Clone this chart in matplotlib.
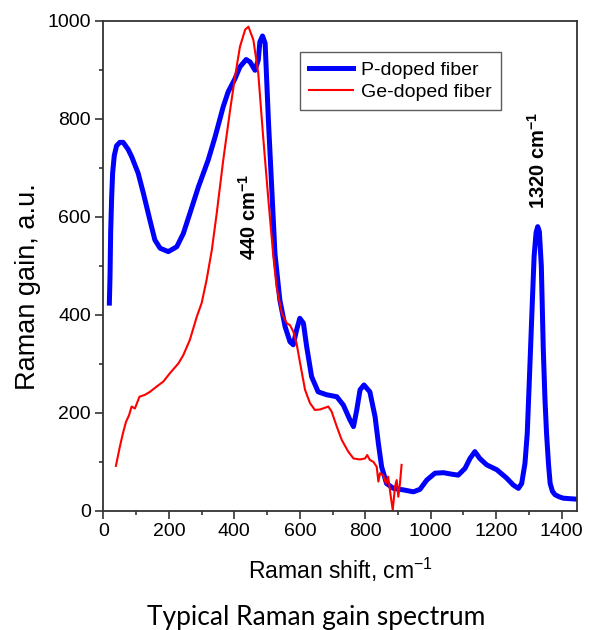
import matplotlib
matplotlib.use("Agg")
import matplotlib.pyplot as plt
from matplotlib.ticker import MultipleLocator

plt.rcParams["mathtext.fontset"] = "custom"
plt.rcParams["mathtext.rm"] = "Liberation Sans"
plt.rcParams["mathtext.it"] = "Liberation Sans:italic"
plt.rcParams["mathtext.bf"] = "Liberation Sans:bold"
plt.rcParams["font.family"] = ["Liberation Sans", "DejaVu Sans"]

# P-doped fiber (blue)
p_shift = [18, 20, 22, 25, 28, 33, 40, 50, 60, 75, 86, 106, 122, 142, 157, 173, 198, 224, 244,
           264, 290, 320, 341, 366, 381, 402, 417, 436, 448, 463, 473, 478, 486, 494, 504, 514,
           524, 539, 555, 570, 580, 590, 600, 611, 621, 636, 656, 682, 713, 733, 753, 764, 774,
           784, 796, 814, 830, 840, 850, 865, 886, 916, 947, 967, 988, 1013, 1039, 1064, 1084,
           1105, 1120, 1135, 1150, 1171, 1202, 1232, 1252, 1268, 1278, 1288, 1295, 1301, 1309,
           1316, 1322, 1327, 1332, 1338, 1344, 1349, 1354, 1360, 1365, 1372, 1380, 1392, 1405,
           1425, 1446]
p_gain = [424, 480, 570, 640, 690, 725, 745, 752, 752, 738, 723, 689, 648, 593, 553, 536, 529,
          539, 566, 607, 661, 716, 763, 825, 855, 882, 906, 921, 916, 899, 920, 957, 969, 954,
          797, 661, 525, 430, 376, 345, 339, 369, 393, 383, 335, 274, 243, 237, 233, 216, 186,
          172, 206, 247, 257, 243, 192, 138, 90, 56, 46, 43, 39, 44, 63, 77, 78, 75, 73, 87,
          107, 121, 107, 94, 84, 67, 53, 46, 56, 97, 158, 260, 400, 520, 568, 580, 570, 500,
          330, 230, 158, 95, 56, 40, 33, 29, 26, 25, 24]

# Ge-doped fiber (red)
g_shift = [38, 50, 60, 69, 78, 86, 96, 110, 127, 142, 163, 183, 203, 229, 244, 264, 285, 300,
           315, 331, 346, 366, 387, 402, 417, 433, 443, 458, 473, 488, 504, 519, 529, 545, 560,
           570, 580, 590, 601, 616, 631, 646, 662, 687, 697, 713, 728, 748, 764, 784, 799, 806,
           814, 825, 835, 840, 845, 855, 863, 870, 878, 884, 891, 896, 901, 906, 911]
g_gain = [92, 131, 160, 182, 195, 213, 209, 233, 237, 243, 254, 264, 281, 301, 318, 349, 396,
          424, 471, 532, 607, 716, 818, 886, 947, 982, 988, 961, 893, 763, 634, 520, 457, 403,
          383, 379, 366, 342, 301, 247, 220, 206, 207, 213, 203, 172, 145, 121, 107, 105, 107,
          114, 104, 100, 90, 60, 77, 73, 56, 70, 29, 2, 50, 63, 29, 56, 94]

fig = plt.figure(figsize=(5.93, 6.30), dpi=100)
ax = fig.add_axes([0.1745, 0.189, 0.7985, 0.778])

ax.plot(p_shift, p_gain, color="#0000ff", lw=3.6, label="P-doped fiber", solid_joinstyle="round")
ax.plot(g_shift, g_gain, color="#ff0000", lw=1.5, label="Ge-doped fiber")

ax.set_xlim(0, 1447)
ax.set_ylim(0, 1000)
ax.xaxis.set_major_locator(MultipleLocator(200))
ax.xaxis.set_minor_locator(MultipleLocator(100))
ax.yaxis.set_major_locator(MultipleLocator(200))
ax.yaxis.set_minor_locator(MultipleLocator(100))
ax.tick_params(which="major", direction="out", length=6, width=1.2, labelsize=14,
               colors="#333333", labelcolor="black", pad=3)
ax.tick_params(which="minor", direction="out", length=3, width=1.2, colors="#333333")
for s in ax.spines.values():
    s.set_linewidth(1.3)
    s.set_color("#333333")

ax.set_xlabel("Raman shift, cm$^{-1}$", fontsize=16.5, labelpad=11)
ax.set_ylabel("Raman gain, a.u.", fontsize=19.5, va="center")
ax.yaxis.set_label_coords(-0.159, 0.457)

ax.text(443, 600, "440 cm$^{\\mathbf{-1}}$", rotation=90, fontsize=14.5, fontweight="bold",
        ha="center", va="center")
ax.text(1327, 716, "1320 cm$^{\\mathbf{-1}}$", rotation=90, fontsize=14.5, fontweight="bold",
        ha="center", va="center")

leg = ax.legend(loc="upper left", bbox_to_anchor=(0.415, 0.936),
                prop={"family": "Liberation Sans", "size": 14},
                frameon=True, fancybox=False, edgecolor="#333333", handlelength=2.3,
                borderpad=0.45, labelspacing=0.25, handletextpad=0.4, borderaxespad=0)
leg.get_frame().set_linewidth(1.0)

fig.text(0.533, (630 - 625) / 630, "Typical Raman gain spectrum", fontsize=19, family="Lato",
         ha="center", va="baseline")

fig.savefig("out.png", dpi=100)
